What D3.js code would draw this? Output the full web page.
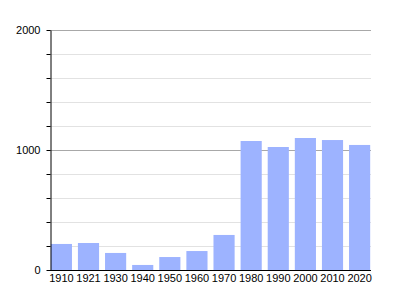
<!DOCTYPE html>
<html>
<head>
<meta charset="utf-8">
<script src="https://cdn.jsdelivr.net/npm/d3@7"></script>
<style>
  body { margin: 0; background: #fff; }
  text { font-family: "Liberation Sans", Arial, sans-serif; font-size: 11px; fill: #000; }
</style>
</head>
<body>
<svg id="chart" width="400" height="300"></svg>
<script>
const years = ["1910", "1921", "1930", "1940", "1950", "1960", "1970", "1980", "1990", "2000", "2010", "2020"];
const population = [217, 225, 142, 42, 108, 158, 292, 1075, 1025, 1100, 1083, 1042];
const majorTicks = [0, 1000, 2000];
const minorTicks = [200, 400, 600, 800, 1200, 1400, 1600, 1800];

const margin = { top: 30, right: 29, bottom: 30, left: 50 };
const width = 400, height = 300;
const svg = d3.select("#chart");

const x = d3.scaleBand()
  .domain(years)
  .range([margin.left, width - margin.right])
  .paddingInner(0.22)
  .paddingOuter(0.03);

const y = d3.scaleLinear()
  .domain([0, 2000])
  .range([height - margin.bottom, margin.top]);

// gridlines
svg.append("g")
  .selectAll("line")
  .data(minorTicks)
  .join("line")
  .attr("x1", margin.left)
  .attr("x2", width - margin.right)
  .attr("y1", d => Math.round(y(d)) + 0.5)
  .attr("y2", d => Math.round(y(d)) + 0.5)
  .attr("stroke", "#e2e2e2");

svg.append("g")
  .selectAll("line")
  .data(majorTicks.slice(1))
  .join("line")
  .attr("x1", margin.left)
  .attr("x2", width - margin.right)
  .attr("y1", d => Math.round(y(d)) + 0.5)
  .attr("y2", d => Math.round(y(d)) + 0.5)
  .attr("stroke", "#a8a8a8");

// bars
svg.append("g")
  .attr("fill", "#9db3ff")
  .selectAll("rect")
  .data(population)
  .join("rect")
  .attr("x", (d, i) => x(years[i]))
  .attr("y", d => y(d))
  .attr("width", x.bandwidth())
  .attr("height", d => y(0) - y(d));

// y axis
const yAxis = svg.append("g")
  .attr("transform", "translate(" + (margin.left + 0.5) + ",0)")
  .call(d3.axisLeft(y).tickValues(majorTicks.concat(minorTicks))
    .tickFormat(d => majorTicks.includes(d) ? d : "")
    .tickSize(4).tickPadding(6).tickSizeOuter(0));
yAxis.select(".domain").attr("stroke", "#000");
yAxis.selectAll("text").style("font-size", "11px");

// x axis
const xAxis = svg.append("g")
  .attr("transform", "translate(0," + (y(0) + 0.5) + ")")
  .call(d3.axisBottom(x).tickSize(0).tickPadding(4).tickSizeOuter(0));
xAxis.select(".domain").attr("stroke", "#000").attr("d", "M" + margin.left + ",0H" + (width - margin.right));
xAxis.selectAll("text").style("font-size", "11px");
</script>
</body>
</html>
